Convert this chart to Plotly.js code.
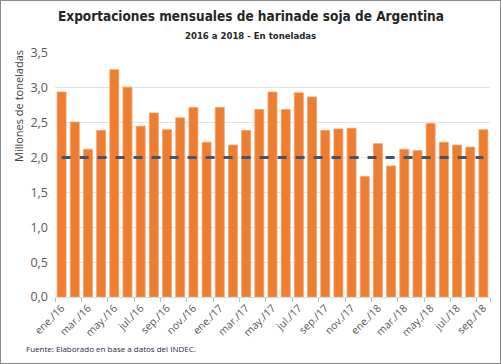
<!DOCTYPE html>
<html><head><meta charset="utf-8">
<script src="https://cdn.plot.ly/plotly-3.0.1.min.js"></script>
<style>
html,body{margin:0;padding:0;background:#fff;}
#wrap{position:absolute;left:0;top:0;width:501px;height:364px;box-sizing:border-box;border:1px solid #8a8a8a;pointer-events:none;}
#chart{position:absolute;left:0;top:0;width:501px;height:364px;}
</style></head>
<body><div id="chart"></div><div id="wrap"></div>
<script>
const meses = ["ene./16","feb./16","mar./16","abr./16","may./16","jun./16","jul./16","ago./16","sep./16","oct./16","nov./16","dic./16",
"ene./17","feb./17","mar./17","abr./17","may./17","jun./17","jul./17","ago./17","sep./17","oct./17","nov./17","dic./17",
"ene./18","feb./18","mar./18","abr./18","may./18","jun./18","jul./18","ago./18","sep./18"];
const exportaciones = [2.94,2.51,2.12,2.39,3.26,3.01,2.45,2.64,2.40,2.57,2.72,2.22,
2.72,2.18,2.39,2.69,2.94,2.69,2.93,2.87,2.39,2.41,2.42,1.73,
2.20,1.88,2.12,2.10,2.49,2.22,2.18,2.15,2.40];
const referencia = 2.0;
const etiquetas = meses.filter((m,i)=>i%2===0);
const titulo = "Exportaciones mensuales de harinade soja de Argentina";
const subtitulo = "2016 a 2018 - En toneladas";

const condensed = "DejaVu Sans Condensed, Liberation Sans Narrow, sans-serif";
const traces = [
 {type:"bar", x:meses, y:exportaciones, marker:{color:"#ED7D31", line:{color:"#F4A06A", width:0.8}}, hoverinfo:"x+y"},
 {type:"scatter", mode:"lines", x:meses, y:meses.map(()=>referencia), line:{color:"#44546A", width:3, dash:"dash"}, hoverinfo:"skip"}
];
const layout = {
 width:501, height:364, showlegend:false, bargap:0.32,
 paper_bgcolor:"rgba(0,0,0,0)", plot_bgcolor:"#fff",
 margin:{l:55, r:11, t:53, b:67},
 xaxis:{type:"category", tickmode:"array", tickvals:etiquetas, ticktext:etiquetas, tickangle:-45,
   tickson:"boundaries", ticks:"outside", ticklen:4, tickcolor:"#BFBFBF",
   showline:true, linecolor:"#D9D9D9", linewidth:1, showgrid:false,
   tickfont:{family:"Open Sans, sans-serif", size:10.5, color:"#595959"}},
 yaxis:{range:[0,3.5], dtick:0.5, tickformat:".1f", ticklabelstandoff:6,
   gridcolor:"#E3E3E3", zeroline:false, showline:false, ticks:"",
   tickfont:{family:"Open Sans, sans-serif", size:12.5, color:"#595959"}},
 separators:",.",
 annotations:[
  {xref:"paper", yref:"paper", x:0.5, y:1, xshift:-22, yshift:37, xanchor:"center", yanchor:"middle", showarrow:false,
   text:"<b>"+titulo+"</b>", font:{family:condensed, size:13.5, color:"#262626"}},
  {xref:"paper", yref:"paper", x:0.5, y:1, xshift:-22, yshift:18, xanchor:"center", yanchor:"middle", showarrow:false,
   text:"<b>"+subtitulo+"</b>", font:{family:condensed, size:9.5, color:"#262626"}},
  {xref:"paper", yref:"paper", x:0, y:1, xshift:-37, yshift:-53, xanchor:"center", yanchor:"middle", showarrow:false, textangle:-90,
   text:"Millones de toneladas", font:{family:"Open Sans, sans-serif", size:11, color:"#404040"}},
  {xref:"paper", yref:"paper", x:0, y:0, xshift:-31, yshift:-51, xanchor:"left", yanchor:"middle", showarrow:false,
   text:"Fuente: Elaborado en base a datos del INDEC.", font:{family:"Open Sans, sans-serif", size:8, color:"#1F2A44"}}]
};
Plotly.newPlot("chart", traces, layout, {displayModeBar:false, staticPlot:true});
</script></body></html>
